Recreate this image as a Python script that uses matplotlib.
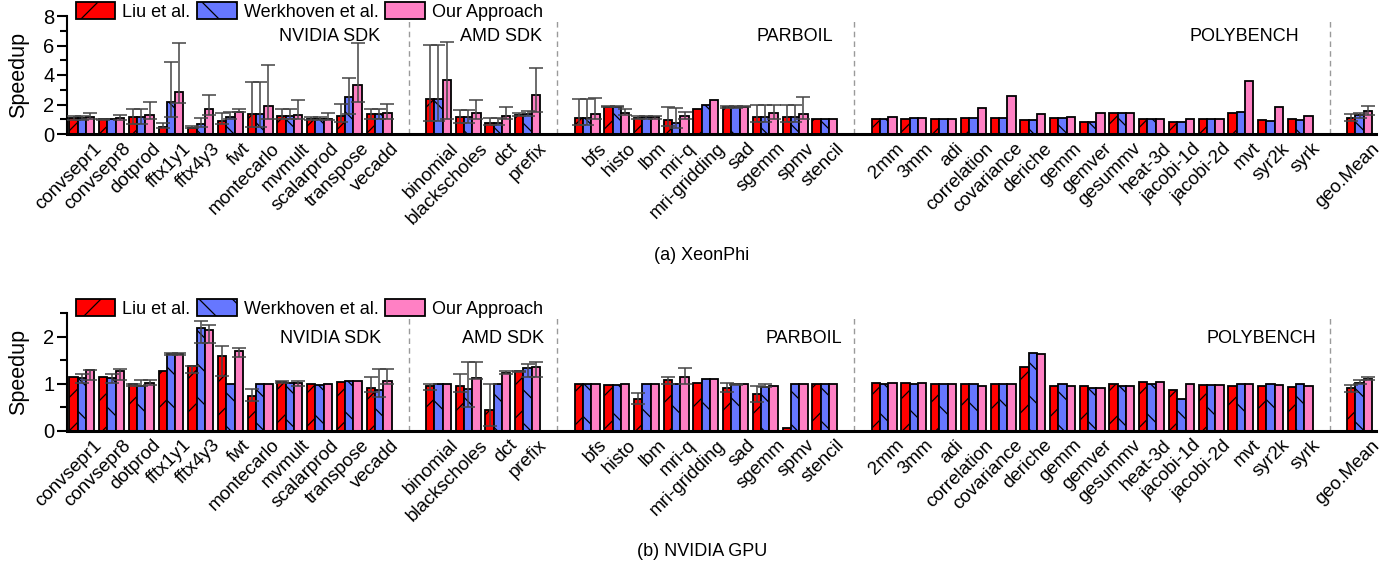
import numpy as np
import matplotlib
matplotlib.use("Agg")
import matplotlib.pyplot as plt
from matplotlib.ticker import MultipleLocator
from matplotlib.transforms import ScaledTranslation

plt.rcParams['font.family'] = ['Liberation Sans', 'DejaVu Sans']
plt.rcParams['hatch.linewidth'] = 0.9

# ---------------- data ----------------
nvidia = ["convsepr1", "convsepr8", "dotprod", "fftx1y1", "fftx4y3", "fwt", "montecarlo",
          "mvmult", "scalarprod", "transpose", "vecadd"]
amd = ["binomial", "blackscholes", "dct", "prefix"]
parboil = ["bfs", "histo", "lbm", "mri-q", "mri-gridding", "sad", "sgemm", "spmv", "stencil"]
polybench = ["2mm", "3mm", "adi", "correlation", "covariance", "deriche", "gemm", "gemver",
             "gesummv", "heat-3d", "jacobi-1d", "jacobi-2d", "mvt", "syr2k", "syrk"]
geomean = ["geo.Mean"]
groups = [nvidia, amd, parboil, polybench, geomean]
group_names = ["NVIDIA SDK", "AMD SDK", "PARBOIL", "POLYBENCH"]
series_names = ["Liu et al.", "Werkhoven et al.", "Our Approach"]

# (a) XeonPhi
liu_a = [1.06, 1.00, 1.18, 0.50, 0.43, 0.90, 1.33, 1.20, 1.02, 1.20, 1.33,
         2.35, 1.18, 0.77, 1.27,
         1.06, 1.85, 1.06, 0.95, 1.67, 1.81, 1.18, 1.18, 1.00,
         1.00, 1.02, 1.02, 1.11, 1.06, 0.95, 1.11, 0.81, 1.40, 1.00, 0.84, 1.00, 1.45, 0.95, 1.00,
         1.06]
werk_a = [1.06, 1.00, 1.18, 2.19, 0.68, 1.18, 1.33, 1.20, 1.02, 2.50, 1.33,
          2.35, 1.18, 0.77, 1.38,
          1.06, 1.85, 1.13, 0.77, 1.94, 1.81, 1.13, 1.18, 1.00,
          1.02, 1.06, 1.02, 1.11, 1.06, 0.95, 1.11, 0.81, 1.40, 1.00, 0.81, 1.00, 1.51, 0.90, 0.93,
          1.29]
ours_a = [1.18, 1.06, 1.29, 2.87, 1.70, 1.51, 1.92, 1.27, 1.04, 3.30, 1.40,
          3.64, 1.42, 1.22, 2.62,
          1.36, 1.42, 1.13, 1.24, 2.30, 1.85, 1.40, 1.36, 1.00,
          1.15, 1.06, 1.04, 1.79, 2.58, 1.33, 1.13, 1.40, 1.40, 1.00, 1.00, 1.00, 3.59, 1.85, 1.20,
          1.56]
N = None
liu_a_lo = [0.95, 0.95, 0.66, 0.38, 0.38, 0.70, 0.50, 1.00, 0.95, 0.80, 1.00,
            0.90, 0.72, 0.60, 1.20,
            0.61, 1.80, 1.00, 0.54, N, 1.75, 0.84, 0.84, N] + [N] * 15 + [0.90]
liu_a_hi = [1.22, 1.05, 1.67, 0.72, 0.54, 1.45, 3.53, 1.72, 1.18, 2.03, 1.72,
            6.03, 1.63, 1.06, 1.40,
            2.40, 1.90, 1.20, 1.85, N, 1.90, 1.94, 1.94, N] + [N] * 15 + [1.33]
werk_a_lo = [0.95, N, 0.66, 1.13, 0.45, 1.00, 0.50, 1.00, 0.95, 1.33, 1.00,
             0.90, 0.72, 0.60, 1.20,
             0.61, 1.80, 1.00, 0.43, N, 1.75, 0.84, 0.84, N] + [N] * 15 + [1.10]
werk_a_hi = [1.22, N, 1.67, 4.88, 1.06, 1.50, 3.53, 1.72, 1.18, 3.77, 1.72,
             6.03, 1.63, 1.06, 1.56,
             2.40, 1.90, 1.20, 1.78, N, 1.90, 1.94, 1.94, N] + [N] * 15 + [1.45]
ours_a_lo = [1.00, 0.95, 1.05, 2.08, 1.30, 1.50, 1.00, 1.00, 0.95, 2.20, 1.00,
             1.00, 1.00, 1.00, 1.47,
             1.00, 1.30, 1.00, 1.00, N, 1.80, 1.00, 1.00, N] + [N] * 15 + [1.29]
ours_a_hi = [1.45, 1.27, 2.20, 6.19, 2.64, 1.70, 4.66, 2.30, 1.45, 6.15, 2.05,
             6.21, 2.30, 1.85, 4.45,
             2.44, 1.70, 1.20, 1.51, N, 1.90, 1.94, 2.53, N] + [N] * 15 + [1.90]

# (b) NVIDIA GPU
liu_b = [1.13, 1.13, 0.99, 1.26, 1.38, 1.59, 0.74, 1.04, 0.99, 1.03, 0.91,
         0.96, 0.96, 0.44, 1.26,
         0.99, 0.97, 0.67, 1.08, 1.02, 0.90, 0.77, 0.06, 0.99,
         1.02, 1.01, 0.99, 0.99, 0.99, 1.35, 0.94, 0.96, 0.99, 1.04, 0.86, 0.98, 0.96, 0.94, 0.92,
         0.91]
werk_b = [1.11, 1.11, 0.95, 1.63, 2.19, 0.99, 0.99, 1.02, 0.97, 1.06, 0.87,
          0.99, 0.88, 0.99, 1.34,
          0.99, 0.97, 0.99, 0.99, 1.09, 1.00, 0.92, 0.99, 0.99,
          0.99, 0.99, 0.99, 0.99, 0.99, 1.66, 0.99, 0.91, 0.95, 0.99, 0.67, 0.98, 0.99, 0.99, 0.99,
          1.02]
ours_b = [1.28, 1.27, 1.01, 1.63, 2.13, 1.70, 0.99, 1.02, 0.99, 1.06, 1.06,
          0.99, 1.11, 1.22, 1.35,
          0.99, 0.99, 0.99, 1.15, 1.09, 1.00, 0.96, 0.99, 0.99,
          1.02, 1.01, 0.99, 0.94, 0.99, 1.63, 0.95, 0.91, 0.95, 1.04, 0.99, 0.98, 0.99, 0.97, 0.95,
          1.09]
liu_b_lo = [N, N, 0.94, N, 1.22, 1.16, 0.63, 1.02, N, N, 0.83,
            0.87, 0.82, 0.10, 1.24,
            N, N, 0.57, 0.99, N, 0.82, 0.62, N, N] + [N] * 15 + [0.83]
liu_b_hi = [N, N, 1.00, N, 1.38, 1.79, 0.88, 1.06, N, N, 1.15,
            0.99, 1.20, 0.99, 1.27,
            N, N, 0.81, 1.15, N, 1.02, 0.94, N, N] + [N] * 15 + [0.97]
werk_b_lo = [1.02, 1.02, 0.94, 1.60, 1.86, N, N, N, N, N, 0.72,
             N, 0.51, N, 1.15,
             N, N, N, N, N, 0.98, 0.92, N, N] + [N] * 15 + [1.00]
werk_b_hi = [1.20, 1.20, 1.08, 1.64, 2.32, N, N, N, N, N, 1.30,
             N, 1.45, N, 1.41,
             N, N, N, N, N, 1.00, 0.99, N, N] + [N] * 15 + [1.08]
ours_b_lo = [1.08, 1.08, 0.98, 1.60, 1.86, 1.56, N, 0.94, N, N, 0.99,
             N, 1.10, 1.20, 1.15,
             N, N, N, 0.99, N, N, N, N, N] + [N] * 15 + [1.08]
ours_b_hi = [1.29, 1.30, 1.08, 1.64, 2.25, 1.75, N, 1.06, N, N, 1.32,
             N, 1.45, 1.27, 1.45,
             N, N, N, 1.33, N, N, N, N, N] + [N] * 15 + [1.13]

# ---------------- styling ----------------
colors = ["#ff0000", "#6677ff", "#ff80c4"]
hatches = ["/", "\\", ""]
W = 1399
H = 569
fig = plt.figure(figsize=(W / 100, H / 100), dpi=100)

# x positions with one empty slot between groups
xpos = []
seps = []
pos = 0
for gi, g in enumerate(groups):
    for _ in g:
        xpos.append(pos)
        pos += 1
    if gi < len(groups) - 1:
        seps.append(pos)
        pos += 1
xpos = np.array(xpos, dtype=float)
labels = [c for g in groups for c in g]

left = 67 / W
right = 1376 / W


def ax_rect(top_px, bottom_px):
    return [left, 1 - bottom_px / H, right - left, (bottom_px - top_px) / H]


def draw(ax, vals, los, his, ymax, major, minor, grp_x, grp_y, leg_y):
    bw = 0.28
    offs = [-bw, 0.0, bw]
    handles = []
    for s in range(3):
        v = np.array(vals[s], dtype=float)
        b = ax.bar(xpos + offs[s], v, width=bw, color=colors[s], edgecolor="black",
                   linewidth=1.3, hatch=hatches[s], zorder=2, label=series_names[s])
        handles.append(b)
        lo = np.array([np.nan if x is None else x for x in los[s]], dtype=float)
        hi = np.array([np.nan if x is None else x for x in his[s]], dtype=float)
        m = ~np.isnan(lo)
        yerr = np.vstack([np.clip(v[m] - lo[m], 0, None), np.clip(hi[m] - v[m], 0, None)])
        ax.errorbar(xpos[m] + offs[s], v[m], yerr=yerr, fmt="none", ecolor="#444444",
                    elinewidth=1.1, capsize=4.8, capthick=1.1, zorder=3)
    for sx in seps:
        ax.axvline(sx, ymin=0, ymax=0.97, color="#9a9a9a", linestyle=(0, (4, 3)),
                   linewidth=1.0, zorder=1)
    for name, gx in zip(group_names, grp_x):
        ax.text(gx, grp_y, name, ha="right", va="center", fontsize=13,
                transform=ax.get_xaxis_transform())
    ax.set_xlim(-0.5, 43.55)
    ax.set_ylim(0, ymax)
    ax.yaxis.set_major_locator(MultipleLocator(major))
    ax.yaxis.set_minor_locator(MultipleLocator(minor))
    ax.set_xticks(xpos)
    ax.set_xticklabels([])
    shift = ScaledTranslation(11 / 100, -6 / 100, fig.dpi_scale_trans)
    for xp, lab in zip(xpos, labels):
        ax.text(xp, 0, lab, rotation=45, ha="right", va="top", rotation_mode="anchor",
                fontsize=13.5, transform=ax.get_xaxis_transform() + shift)
    ax.tick_params(axis="x", length=0, pad=4)
    ax.tick_params(axis="y", which="major", length=7, width=1.5, labelsize=14.5, pad=2)
    ax.tick_params(axis="y", which="minor", length=5, width=1.5)
    for sp in ["top", "right"]:
        ax.spines[sp].set_visible(False)
    ax.spines["left"].set_linewidth(1.5)
    ax.spines["bottom"].set_linewidth(2.2)
    ax.set_ylabel("Speedup", fontsize=15.5)
    ax.yaxis.set_label_coords(-0.029, 0.5)
    ax.legend(handles=handles, loc="upper left", bbox_to_anchor=(0.0065, leg_y),
              ncol=3, frameon=False, fontsize=13, handlelength=2.2, handleheight=1.1,
              handletextpad=0.4, columnspacing=0.35, borderaxespad=0, borderpad=0)


ax1 = fig.add_axes(ax_rect(16, 134))
draw(ax1, [liu_a, werk_a, ours_a], [liu_a_lo, werk_a_lo, ours_a_lo],
     [liu_a_hi, werk_a_hi, ours_a_hi], 8, 2, 1,
     [10.03, 15.48, 25.27, 40.95], 0.83, 1.12)

ax2 = fig.add_axes(ax_rect(313, 430.7))
draw(ax2, [liu_b, werk_b, ours_b], [liu_b_lo, werk_b_lo, ours_b_lo],
     [liu_b_hi, werk_b_hi, ours_b_hi], 2.5, 1, 0.5,
     [10.06, 15.55, 25.57, 41.55], 0.78, 1.12)

fig.text(702 / W, 1 - 256 / H, "(a) XeonPhi", ha="center", va="center", fontsize=13)
fig.text(702 / W, 1 - 551 / H, "(b) NVIDIA GPU", ha="center", va="center", fontsize=13)

fig.savefig("out.png", dpi=100)
